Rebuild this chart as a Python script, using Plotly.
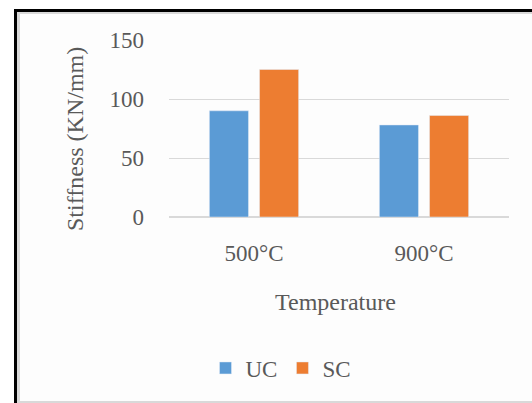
import plotly.graph_objects as go

categories = ["500°C", "900°C"]
uc_values = [90, 78]
sc_values = [125, 86]
y_ticks = [0, 50, 100, 150]

W, H = 532, 403
L, R, T, B = 169, 509, 40, 217

def px(x):
    return (x - L) / (R - L)

def py(y):
    return (B - y) / (B - T)

font_fam = "Liberation Serif, Times New Roman, serif"
txt = "#595959"
fs = 23

fig = go.Figure()
fig.add_bar(x=categories, y=uc_values, name="UC", marker_color="#5B9BD5")
fig.add_bar(x=categories, y=sc_values, name="SC", marker_color="#ED7D31")

shapes = [
    dict(type="rect", xref="paper", yref="paper", x0=px(14), x1=px(540), y0=py(9), y1=py(410),
         fillcolor="black", line_width=0, layer="below"),
    dict(type="rect", xref="paper", yref="paper", x0=px(17), x1=px(540), y0=py(12), y1=py(403),
         fillcolor="#d9d9d9", line_width=0, layer="below"),
    dict(type="rect", xref="paper", yref="paper", x0=px(20), x1=px(540), y0=py(14), y1=py(401),
         fillcolor="#fdfdfd", line_width=0, layer="below"),
]

fig.update_layout(
    width=W, height=H,
    margin=dict(l=L, r=W - R, t=T, b=H - B),
    paper_bgcolor="white",
    plot_bgcolor="rgba(0,0,0,0)",
    barmode="group",
    bargap=0.41,
    bargroupgap=0.22,
    shapes=shapes,
    font=dict(family=font_fam, color=txt, size=fs),
    showlegend=True,
    legend=dict(orientation="h", x=px(281), y=py(368), xanchor="center", yanchor="middle",
                font=dict(size=fs, color=txt), bgcolor="rgba(0,0,0,0)",
                itemwidth=30, tracegroupgap=0),
    annotations=[
        dict(text="Temperature", xref="paper", yref="paper", x=px(335), y=py(302),
             xanchor="center", yanchor="middle", showarrow=False,
             font=dict(size=fs + 1, color=txt)),
        dict(text="Stiffness (KN/mm)", xref="paper", yref="paper", x=px(75), y=py(139),
             xanchor="center", yanchor="middle", showarrow=False, textangle=-90,
             font=dict(size=fs + 1, color=txt)),
    ],
)
fig.update_xaxes(showgrid=False, showline=False, zeroline=False, ticks="",
                 ticklabelstandoff=20, tickfont=dict(size=fs, color=txt))
fig.update_yaxes(range=[0, 150], tickvals=y_ticks, showgrid=True, gridcolor="#d9d9d9",
                 gridwidth=1, zeroline=True, zerolinecolor="#d9d9d9", zerolinewidth=2,
                 showline=False, ticks="", ticklabelstandoff=24,
                 tickfont=dict(size=fs, color=txt))

fig.write_html("out.html")
